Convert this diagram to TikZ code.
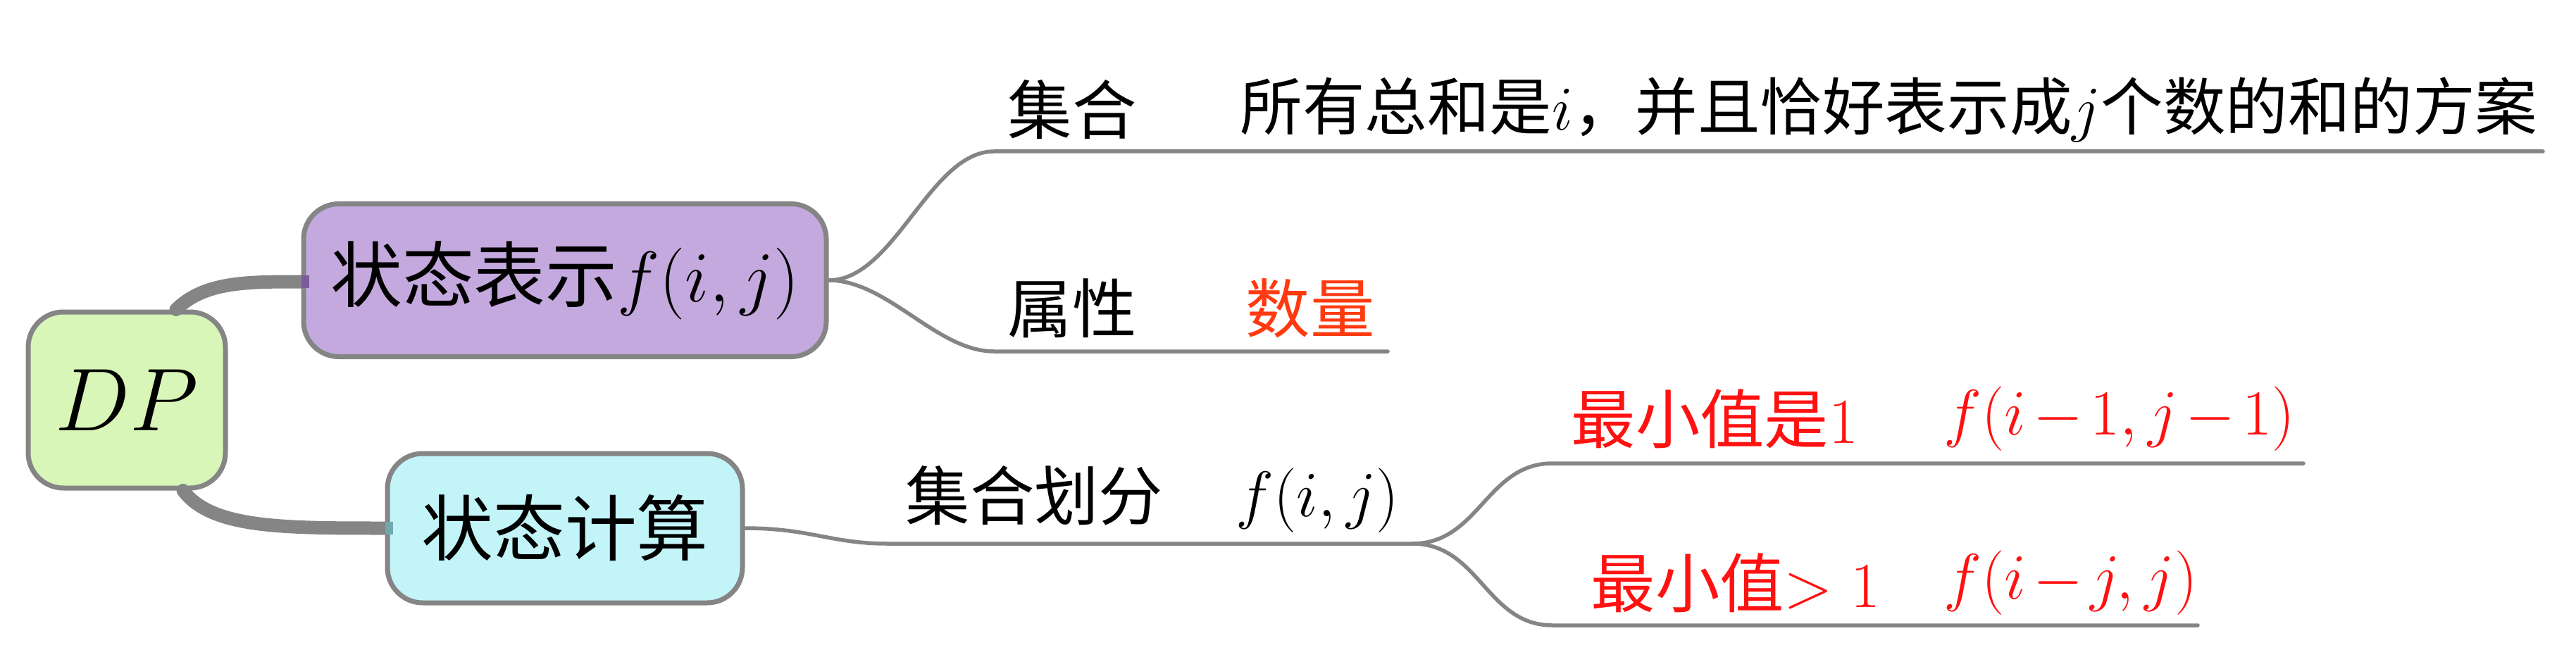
\RequirePackage{fix-cm}
\documentclass[tikz,border=0pt]{standalone}
\usepackage[no-math]{fontspec}
\setmainfont{Noto Sans CJK SC}
\usetikzlibrary{positioning}
\definecolor{linegray}{HTML}{858585}
\definecolor{dpgreen}{HTML}{D8F6B8}
\definecolor{reppurple}{HTML}{C4A9DE}
\definecolor{repstub}{HTML}{7D5C9E}
\definecolor{calccyan}{HTML}{C2F4F8}
\definecolor{calcstub}{HTML}{6FA8AD}
\definecolor{qtyorange}{HTML}{FF3A10}
\definecolor{minred}{HTML}{FF1111}
\medmuskip=2mu

\begin{document}
\begin{tikzpicture}[
    topic/.style={draw=linegray, line width=0.07cm, rounded corners=0.5cm, inner sep=0pt},
    bigtext/.style={font=\fontsize{29}{32}\selectfont},
    leaf/.style={inner sep=0pt, anchor=west, font=\fontsize{26}{30}\selectfont},
    branch/.style={draw=linegray, line width=0.19cm, line cap=round},
    twig/.style={draw=linegray, line width=0.055cm, line cap=round}]
\useasboundingbox (0,0) rectangle (36.57,-9.5);

% main topics
\node[topic, fill=dpgreen, minimum width=2.8cm, minimum height=2.5cm,
      font=\fontsize{36}{40}\selectfont] (dp) at (1.80,-5.68) {$DP$};
\node[topic, bigtext, fill=reppurple, minimum width=7.42cm, minimum height=2.17cm]
      (rep) at (8.02,-3.98) {状态表示$f(i,j)$};
\node[topic, bigtext, fill=calccyan, minimum width=5.04cm, minimum height=2.12cm]
      (calc) at (8.02,-7.50) {状态计算};

% leaves
\node[leaf] (setlbl) at (14.30,-1.56) {集合};
\node[leaf, font=\fontsize{25.2}{29}\selectfont] (setdesc) at (17.60,-1.56) {所有总和是$i$，并且恰好表示成$j$个数的和的方案};
\node[leaf] (attrlbl) at (14.30,-4.38) {属性};
\node[leaf, text=qtyorange] (attrval) at (17.68,-4.38) {数量};
\node[leaf] (partlbl) at (12.85,-7.04) {集合划分};
\node[leaf] (partf) at (17.54,-7.11) {$f(i,j)$};
\node[leaf, text=minred] (minone) at (22.30,-5.95) {最小值是$1$};
\node[leaf, text=minred] (minonef) at (27.59,-5.95) {$f(i-1,j-1)$};
\node[leaf, text=minred] (mingt) at (22.58,-8.28) {最小值$>1$};
\node[leaf, text=minred] (mingtf) at (27.59,-8.28) {$f(i-j,j)$};

% line ends
\coordinate (setL) at (14.11,-2.15);
\coordinate (setR) at (36.10,-2.15);
\coordinate (attrL) at (14.11,-4.99);
\coordinate (attrR) at (19.70,-4.99);
\coordinate (partL) at (12.60,-7.72);
\coordinate (fork) at (20.05,-7.72);
\coordinate (oneL) at (22.04,-6.58);
\coordinate (oneR) at (32.70,-6.58);
\coordinate (gtL) at (22.04,-8.88);
\coordinate (gtR) at (31.20,-8.88);

% thick branches
\draw[branch] ([xshift=0.7cm]dp.north) .. controls (2.9,-4.0) and (3.5,-4.0) .. ([yshift=-0.02cm]rep.west);
\draw[branch] ([xshift=0.8cm]dp.south) .. controls (3.0,-7.5) and (4.0,-7.5) .. (calc.west);
\fill[repstub] ([yshift=-0.11cm]rep.west) rectangle ++(0.11,0.18);
\fill[calcstub] ([yshift=-0.09cm]calc.west) rectangle ++(0.11,0.18);

% thin branches
\draw[twig] (rep.east) .. controls (12.7,-3.98) and (13.2,-2.15) .. (setL) -- (setR);
\draw[twig] (rep.east) .. controls (12.6,-3.98) and (13.3,-4.99) .. (attrL) -- (attrR);
\draw[twig] (calc.east) .. controls (11.5,-7.50) and (11.8,-7.72) .. (partL) -- (fork);
\draw[twig] (fork) .. controls (21.0,-7.72) and (21.1,-6.58) .. (oneL) -- (oneR);
\draw[twig] (fork) .. controls (21.0,-7.72) and (21.1,-8.88) .. (gtL) -- (gtR);
\end{tikzpicture}
\end{document}
